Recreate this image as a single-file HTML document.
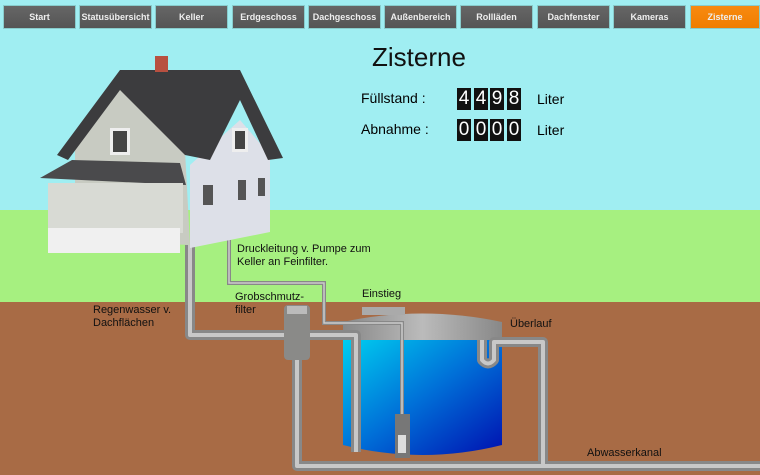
<!DOCTYPE html>
<html><head><meta charset="utf-8"><style>
body{margin:0;width:760px;height:475px;overflow:hidden;font-family:"Liberation Sans",sans-serif;position:relative;background:#a0eef2}
.nav{position:absolute;top:5px;height:24px;width:73px;background:linear-gradient(#666,#555);border:1px solid #8cc;box-sizing:border-box;color:#eee;font-size:9px;font-weight:bold;text-align:center;line-height:22px}
.t{position:absolute;font-size:11px;color:#111;line-height:13px}
.d{position:absolute;width:14px;height:22px;background:#111;color:#fff;font-size:19px;text-align:center;line-height:22px}
</style></head><body>
<div style="position:absolute;left:0;top:210px;width:760px;height:93px;background:#a6f080"></div>
<div style="position:absolute;left:0;top:302px;width:760px;height:173px;background:#a86b45"></div>
<div class="nav" style="left:3px">Start</div>
<div class="nav" style="left:79px">Statusübersicht</div>
<div class="nav" style="left:155px">Keller</div>
<div class="nav" style="left:232px">Erdgeschoss</div>
<div class="nav" style="left:308px">Dachgeschoss</div>
<div class="nav" style="left:384px">Außenbereich</div>
<div class="nav" style="left:460px">Rollläden</div>
<div class="nav" style="left:537px">Dachfenster</div>
<div class="nav" style="left:613px">Kameras</div>
<div class="nav" style="left:690px;width:70px;background:linear-gradient(#f88a10,#f07d00)">Zisterne</div>
<div style="position:absolute;left:372px;top:42px;font-size:26px;color:#111">Zisterne</div>
<div style="position:absolute;left:361px;top:90px;font-size:14px">Füllstand :</div>
<div style="position:absolute;left:361px;top:121px;font-size:14px">Abnahme :</div>
<div style="position:absolute;left:537px;top:91px;font-size:14px">Liter</div>
<div style="position:absolute;left:537px;top:122px;font-size:14px">Liter</div>
<div class="d" style="left:457px;top:88px">4</div><div class="d" style="left:474px;top:88px">4</div><div class="d" style="left:490px;top:88px">9</div><div class="d" style="left:507px;top:88px">8</div>
<div class="d" style="left:457px;top:119px">0</div><div class="d" style="left:474px;top:119px">0</div><div class="d" style="left:490px;top:119px">0</div><div class="d" style="left:507px;top:119px">0</div>
<svg width="760" height="475" style="position:absolute;left:0;top:0">
<defs>
<linearGradient id="w" x1="0" y1="0" x2="1" y2="1"><stop offset="0" stop-color="#00d0f0"/><stop offset="0.5" stop-color="#0070d8"/><stop offset="1" stop-color="#0010b0"/></linearGradient>
<linearGradient id="r" x1="0" y1="0" x2="1" y2="0"><stop offset="0" stop-color="#888"/><stop offset="0.5" stop-color="#bbb"/><stop offset="1" stop-color="#888"/></linearGradient>
</defs>
<!-- tank -->
<path d="M343 338 L343 445 Q422 465 502 445 L502 338 Z" fill="url(#w)"/>
<path d="M343 340 L343 322 Q422 305 502 322 L502 340 Z" fill="url(#r)"/>
<rect x="362" y="307" width="43" height="8" fill="#aaa"/>
<g fill="none" stroke="#888" stroke-width="10" stroke-linejoin="round">
<path d="M190 245 L190 335 L356 335 L356 452"/>
<path d="M297 360 L297 466 L760 466"/>
<path d="M482 340 L482 360 Q488 367 494 360 L494 342 L543 342 L543 466"/>
</g>
<g fill="none" stroke="#c8c8c8" stroke-width="4" stroke-linejoin="round">
<path d="M190 245 L190 335 L356 335 L356 452"/>
<path d="M297 360 L297 466 L760 466"/>
<path d="M482 340 L482 360 Q488 367 494 360 L494 342 L543 342 L543 466"/>
</g>
<path d="M229 240 L229 283 L324 283 L324 323 L402 323 L402 418" fill="none" stroke="#888" stroke-width="4"/>
<path d="M229 240 L229 283 L324 283 L324 323 L402 323 L402 418" fill="none" stroke="#ccc" stroke-width="1.5"/>
<rect x="284" y="305" width="26" height="55" rx="4" fill="#8a8a88"/>
<rect x="287" y="306" width="20" height="8" fill="#bbb"/>
<rect x="395" y="414" width="15" height="44" fill="#777"/><rect x="398" y="435" width="8" height="18" fill="#ddd"/>
<!-- house -->
<path d="M75 140 L120 70 L185 150 L190 245 L75 240 Z" fill="#c8cbc2"/>
<path d="M190 165 L240 120 L270 155 L270 232 L190 248 Z" fill="#dde0e8"/>
<path d="M57 155 L120 70 L240 70 L283 158 L268 160 L240 100 L210 160 L185 155 L120 90 L68 160 Z" fill="#3c3c3e"/>
<rect x="155" y="56" width="13" height="16" fill="#b85040"/>
<path d="M40 178 L72 160 L180 163 L186 185 Z" fill="#4a4a4c"/>
<rect x="48" y="183" width="135" height="50" fill="#d8dad4"/>
<rect x="48" y="228" width="132" height="25" fill="#f0f0f0"/>
<rect x="110" y="128" width="20" height="27" fill="#eee"/><rect x="113" y="131" width="14" height="21" fill="#444"/>
<rect x="232" y="128" width="16" height="24" fill="#eee"/><rect x="235" y="131" width="10" height="18" fill="#444"/>
<rect x="203" y="185" width="10" height="20" fill="#555"/><rect x="238" y="180" width="8" height="20" fill="#555"/><rect x="258" y="178" width="7" height="18" fill="#555"/>
</svg>
<div class="t" style="left:237px;top:243px">Druckleitung v. Pumpe zum<br>Keller an Feinfilter.</div>
<div class="t" style="left:235px;top:291px">Grobschmutz-<br>filter</div>
<div class="t" style="left:362px;top:288px">Einstieg</div>
<div class="t" style="left:510px;top:318px">Überlauf</div>
<div class="t" style="left:93px;top:304px">Regenwasser v.<br>Dachflächen</div>
<div class="t" style="left:587px;top:447px">Abwasserkanal</div>
</body></html>
